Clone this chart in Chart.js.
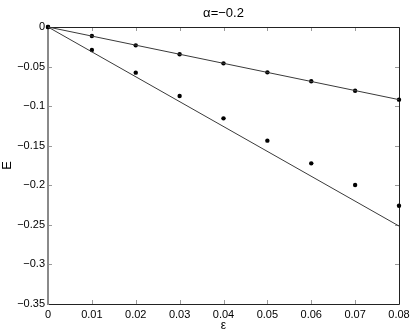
<!DOCTYPE html>
<html>
<head>
<meta charset="utf-8">
<script src="https://cdn.jsdelivr.net/npm/chart.js@4.4.1/dist/chart.umd.min.js"></script>
<style>
    html, body { margin: 0; padding: 0; background: #fff; }
    #wrap { width: 415px; height: 335px; position: relative; }
</style>
</head>
<body>
<div id="wrap"><canvas id="energyChart"></canvas></div>
<script>
// Werte
const titleText = "\u03b1=\u22120.2";
const epsValues = [0, 0.01, 0.02, 0.03, 0.04, 0.05, 0.06, 0.07, 0.08];
const upperE = [0, -0.0114, -0.0232, -0.0345, -0.0459, -0.0573, -0.0686, -0.0805, -0.0918];
const lowerE = [0, -0.0290, -0.0577, -0.0872, -0.1154, -0.1436, -0.1723, -0.1997, -0.2258];
const fitEps = [0, 0.08];
const upperFit = [0, -0.0918];
const lowerFit = [0, -0.2515];
const xRange = [0, 0.08, 0.01];
const yRange = [-0.35, 0, 0.05];

const toPoints = (xs, ys) => xs.map((x, i) => ({x: x, y: ys[i]}));
const fmt = (v) => String(+v.toFixed(2)).replace("-", "\u2212");

// Rahmen, Ticks nach innen, Titel (Matlab-Stil)
const framePlugin = {
    id: "matlabFrame",
    beforeDatasetsDraw(chart) {
        const {ctx, chartArea: a, scales: {x, y}} = chart;
        ctx.save();
        ctx.strokeStyle = "#9a9a9a";
        ctx.lineWidth = 1;
        ctx.beginPath();
        x.ticks.forEach(t => {
            const px = Math.round(x.getPixelForValue(t.value)) + 0.5;
            ctx.moveTo(px, a.bottom); ctx.lineTo(px, a.bottom - 4);
            ctx.moveTo(px, a.top); ctx.lineTo(px, a.top + 4);
        });
        y.ticks.forEach(t => {
            const py = Math.round(y.getPixelForValue(t.value)) + 0.5;
            ctx.moveTo(a.left, py); ctx.lineTo(a.left + 4, py);
            ctx.moveTo(a.right, py); ctx.lineTo(a.right - 4, py);
        });
        ctx.stroke();

        ctx.strokeStyle = "#222";
        ctx.beginPath();
        ctx.moveTo(a.left, a.top + 0.5); ctx.lineTo(a.right + 0.5, a.top + 0.5);
        ctx.lineTo(a.right + 0.5, a.bottom + 0.5); ctx.lineTo(a.left, a.bottom + 0.5);
        ctx.stroke();

        ctx.strokeStyle = "#8a8a8a";
        ctx.lineWidth = 2;
        ctx.beginPath();
        ctx.moveTo(a.left, a.top); ctx.lineTo(a.left, a.bottom + 1);
        ctx.stroke();

        ctx.fillStyle = "#000";
        ctx.font = "13px 'Liberation Sans', Arial, sans-serif";
        ctx.textAlign = "center";
        ctx.textBaseline = "middle";
        ctx.fillText(titleText, (a.left + a.right) / 2, 13);
        ctx.restore();
    }
};

const lineStyle = {showLine: true, borderColor: "#3a3a3a", borderWidth: 1, pointRadius: 0, clip: false};
const dotStyle = {showLine: false, backgroundColor: "#000", borderColor: "#000", pointRadius: 2.2, pointBorderWidth: 0, clip: false};

Chart.defaults.font.family = "'Liberation Sans', Arial, sans-serif";
Chart.defaults.color = "#000";

new Chart(document.getElementById("energyChart"), {
    type: "scatter",
    data: {
        datasets: [
            Object.assign({data: toPoints(fitEps, upperFit)}, lineStyle),
            Object.assign({data: toPoints(fitEps, lowerFit)}, lineStyle),
            Object.assign({data: toPoints(epsValues, upperE)}, dotStyle),
            Object.assign({data: toPoints(epsValues, lowerE)}, dotStyle)
        ]
    },
    options: {
        responsive: true,
        maintainAspectRatio: false,
        animation: false,
        layout: {padding: {top: 27, right: 16, bottom: 0, left: 0}},
        plugins: {
            legend: {display: false},
            tooltip: {enabled: false}
        },
        scales: {
            x: {
                type: "linear",
                min: xRange[0], max: xRange[1],
                grid: {display: false, drawTicks: false},
                border: {display: false},
                ticks: {stepSize: xRange[2], padding: 4, font: {size: 11}, maxRotation: 0, callback: fmt},
                title: {display: true, text: "\u03b5", font: {size: 12}, padding: {top: 0, bottom: 2}},
                afterFit: (s) => { s.height = 31; }
            },
            y: {
                type: "linear",
                min: yRange[0], max: yRange[1],
                grid: {display: false, drawTicks: false},
                border: {display: false},
                ticks: {stepSize: yRange[2], padding: 3, font: {size: 11}, callback: fmt},
                title: {display: true, text: "E", font: {size: 13}, padding: {top: 0, bottom: 0}},
                afterFit: (s) => { s.width = 48; }
            }
        }
    },
    plugins: [framePlugin]
});
</script>
</body>
</html>
